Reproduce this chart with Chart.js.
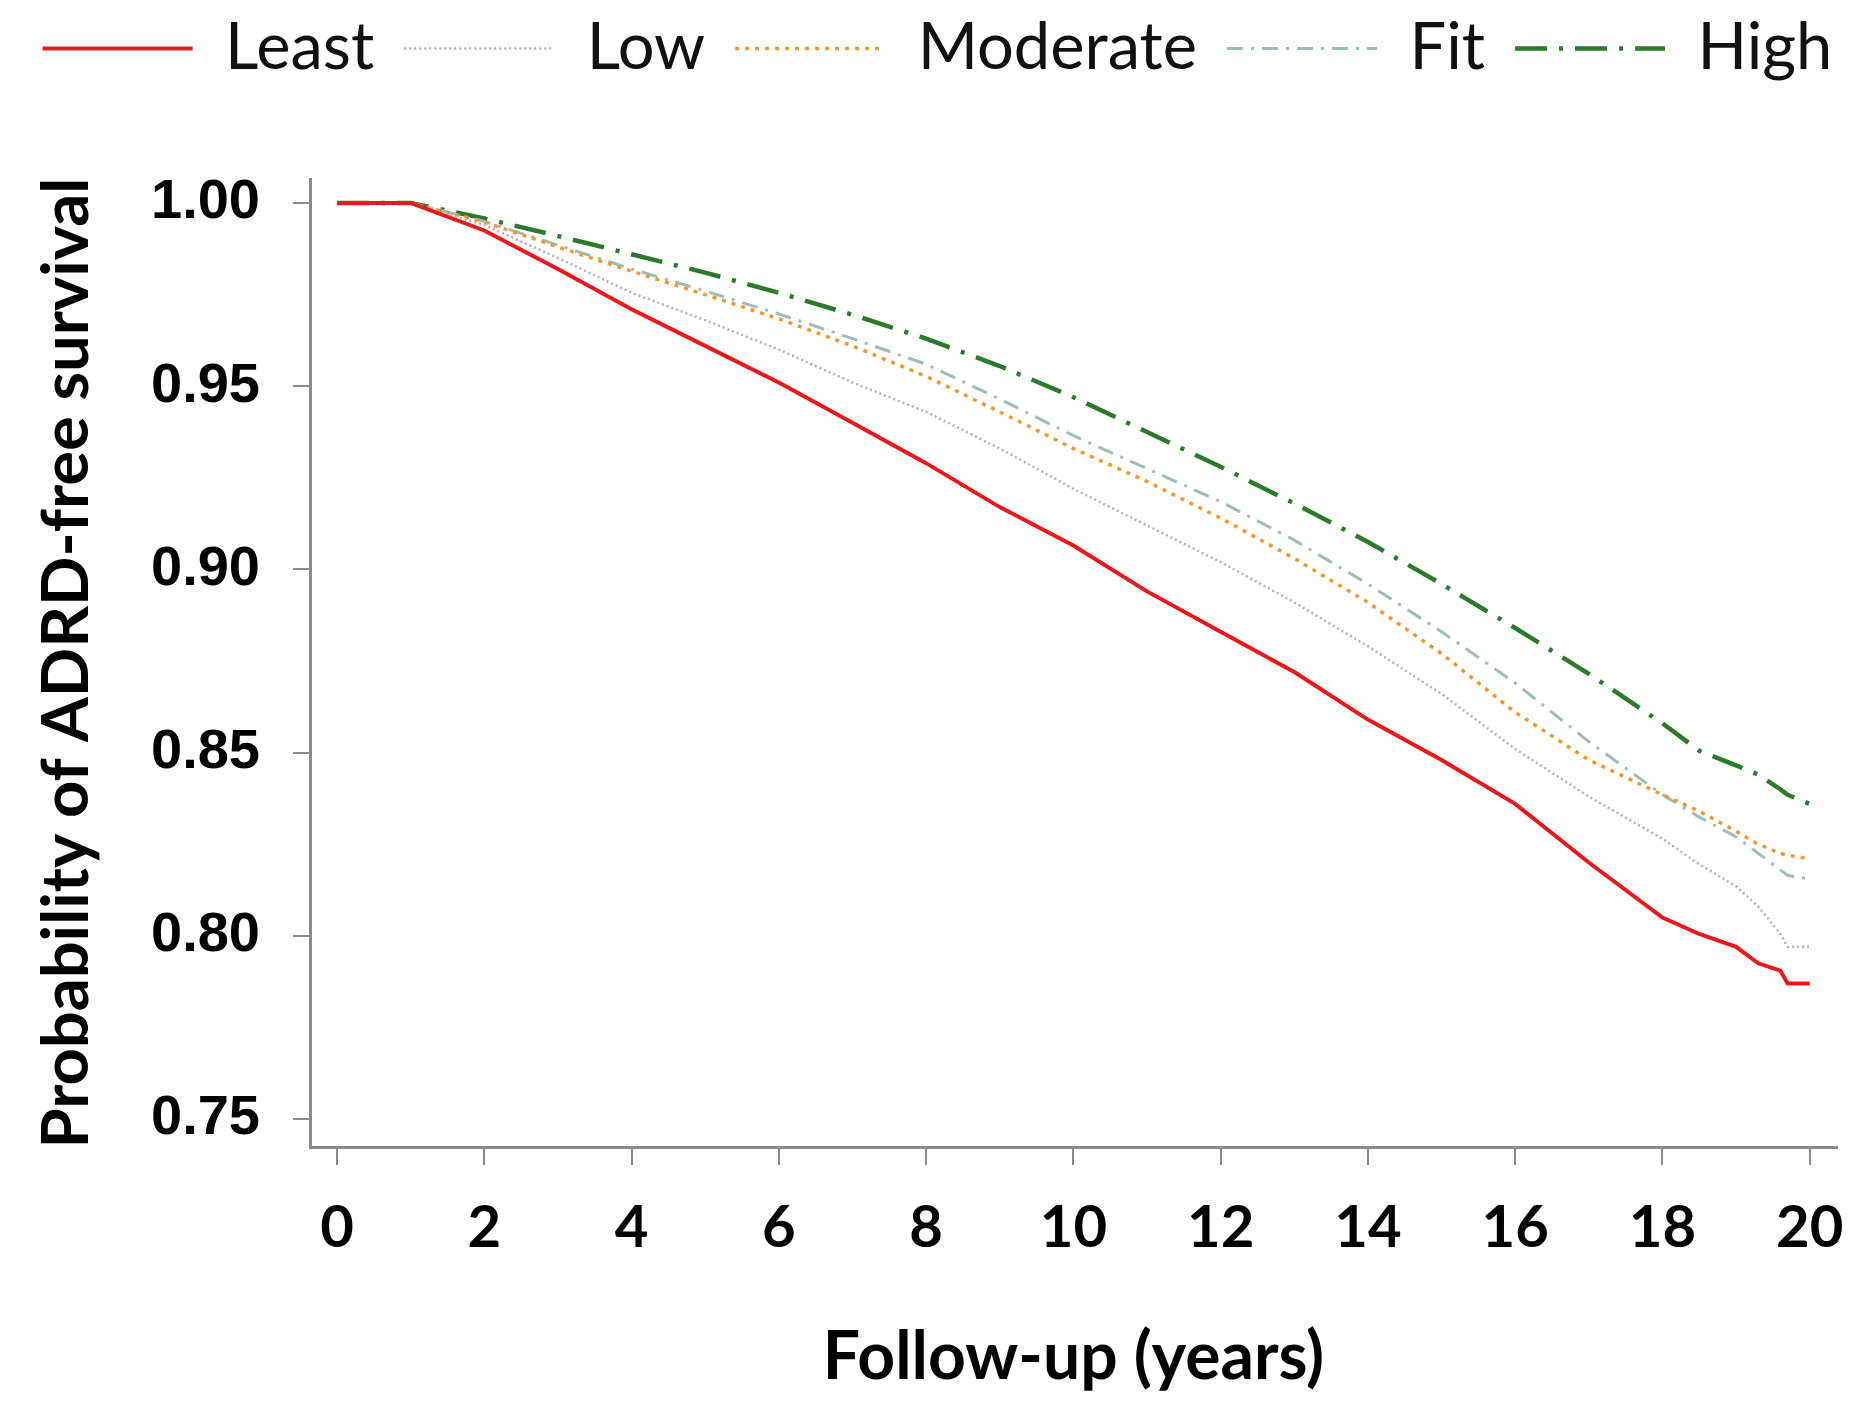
<!DOCTYPE html>
<html><head><meta charset="utf-8">
<script src="https://cdn.jsdelivr.net/npm/chart.js@4/dist/chart.umd.min.js"></script>
<style>html,body{margin:0;padding:0;background:#fff}</style>
</head><body>
<canvas id="c" width="1875" height="1402"></canvas>
<script>
// ---- data ----
const years = [0, 1, 2, 3, 4, 5, 6, 7, 8, 9, 10, 11, 12, 13, 14, 15, 16, 17, 18, 18.5, 19, 19.3, 19.6, 19.7, 20];
const least    = [1, 1, .9925, .982, .971, .961, .951, .940, .929, .917, .9065, .894, .883, .872, .859, .848, .836, .820, .805, .8005, .797, .7925, .7905, .787, .787];
const low      = [1, 1, .994, .985, .9755, .968, .960, .951, .943, .933, .922, .912, .902, .891, .879, .866, .851, .838, .8265, .8195, .8135, .808, .8005, .797, .797];
const moderate = [1, 1, .9948, .988, .9814, .975, .9684, .961, .9527, .943, .933, .924, .914, .903, .891, .877, .861, .848, .8385, .834, .8285, .825, .8225, .822, .821];
const fit      = [1, 1, .995, .9885, .982, .976, .9697, .963, .956, .9465, .9365, .9275, .9185, .908, .896, .883, .869, .853, .8385, .8324, .827, .8225, .818, .8165, .8155];
const high     = [1, 1, .9958, .991, .986, .981, .9755, .9695, .963, .9555, .947, .9375, .928, .918, .9075, .896, .884, .8715, .858, .8505, .8465, .844, .840, .8385, .836];
const seriesNames = ['Least', 'Low', 'Moderate', 'Fit', 'High'];
const xTicks = [0, 2, 4, 6, 8, 10, 12, 14, 16, 18, 20];
const yTicks = [0.75, 0.80, 0.85, 0.90, 0.95, 1.00];

const pts = vals => years.map((x, i) => ({x: x, y: vals[i]}));
const AXIS = '#8a8a8a';

const datasets = [
  {label: seriesNames[0], data: pts(least),    borderColor: '#e8191c', borderWidth: 4,   borderDash: []},
  {label: seriesNames[1], data: pts(low),      borderColor: '#c9a6aa', borderWidth: 2.5, borderDash: [2, 3]},
  {label: seriesNames[2], data: pts(moderate), borderColor: '#f0992f', borderWidth: 3.5, borderDash: [4, 6]},
  {label: seriesNames[3], data: pts(fit),      borderColor: '#9dbcbc', borderWidth: 3,   borderDash: [16, 8, 3, 8]},
  {label: seriesNames[4], data: pts(high),     borderColor: '#2b7a2b', borderWidth: 4.5, borderDash: [32, 12, 4, 12]}
].map(d => Object.assign(d, {pointRadius: 0, fill: false, tension: 0, backgroundColor: d.borderColor}));

new Chart(document.getElementById('c'), {
  type: 'line',
  data: {datasets: datasets},
  options: {
    responsive: false,
    animation: false,
    devicePixelRatio: 1,
    layout: {padding: {top: -14, left: 0, right: 0, bottom: 0}},
    plugins: {
      tooltip: {enabled: false},
      legend: {
        position: 'top', align: 'center', weight: 1000,
        labels: {
          usePointStyle: true, pointStyle: 'line', pointStyleWidth: 150,
          padding: 30, color: '#111',
          font: {family: 'Lato', size: 65, weight: 'normal'},
          generateLabels: chart => {
            const items = Chart.defaults.plugins.legend.labels.generateLabels(chart);
            items.forEach(it => {
              const ds = chart.data.datasets[it.datasetIndex];
              it.lineDash = ds.borderDash;
              it.strokeStyle = ds.borderColor;
              it.lineWidth = ds.borderWidth;
              it.pointStyle = 'line';
            });
            return items;
          }
        }
      },
      subtitle: {display: true, text: '', weight: 1, font: {size: 10, lineHeight: 1}, padding: {top: 0, bottom: 78}}
    },
    scales: {
      x: {
        type: 'linear', min: -0.367, max: 20.37,
        afterBuildTicks: s => { s.ticks = xTicks.map(v => ({value: v})); },
        afterFit: s => { s.height = 255; },
        grid: {display: true, drawOnChartArea: false, drawTicks: true, tickLength: 18, color: AXIS, lineWidth: 2},
        border: {display: true, color: AXIS, width: 3},
        ticks: {padding: 28, color: '#000', maxRotation: 0, font: {family: 'Lato', size: 58, weight: 'bold'}},
        title: {display: true, text: 'Follow-up (years)', color: '#000', padding: {top: 0, bottom: 5},
                font: {family: 'Lato', size: 66, weight: 'bold'}}
      },
      y: {
        type: 'linear', min: 0.74236, max: 1.00655,
        afterBuildTicks: s => { s.ticks = yTicks.map(v => ({value: v})); },
        afterFit: s => { s.width = 310; },
        grid: {display: true, drawOnChartArea: false, drawTicks: true, tickLength: 17, color: AXIS, lineWidth: 2},
        border: {display: true, color: AXIS, width: 3},
        ticks: {padding: 33, color: '#000', callback: v => Number(v).toFixed(2),
                font: {family: 'Liberation Sans', size: 56, weight: 'bold'}},
        title: {display: true, text: 'Probability of ADRD-free survival', color: '#000', padding: {top: 28, bottom: 0},
                font: {family: 'Lato', size: 65, weight: 'bold'}}
      },
      spacer: {
        type: 'linear', position: 'right', display: true,
        afterFit: s => { s.width = 38; },
        grid: {display: false}, border: {display: false}, ticks: {display: false}
      }
    }
  }
});
</script>
</body></html>
